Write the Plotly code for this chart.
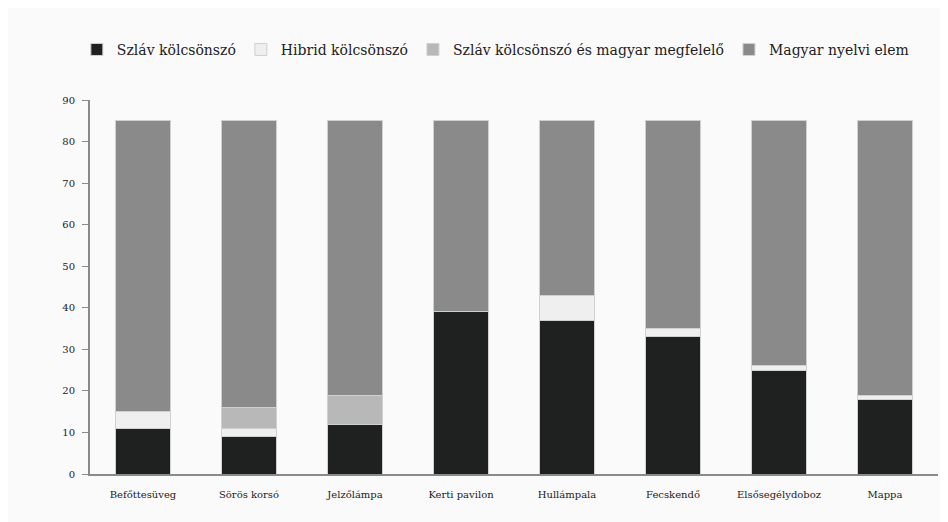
import plotly.graph_objects as go

categories = ['Befőttesüveg', 'Sörös korsó', 'Jelzőlámpa', 'Kerti pavilon',
              'Hullámpala', 'Fecskendő', 'Elsősegélydoboz', 'Mappa']
szlav = [11, 9, 12, 39, 37, 33, 25, 18]
hibrid = [4, 2, 0, 0, 6, 2, 1, 1]
szlav_magyar = [0, 5, 7, 0, 0, 0, 0, 0]
magyar = [70, 69, 66, 46, 42, 50, 59, 66]

series = [
    ('Szláv kölcsönszó', szlav, '#1f2120'),
    ('Hibrid kölcsönszó', hibrid, '#efefef'),
    ('Szláv kölcsönszó és magyar megfelelő', szlav_magyar, '#b8b8b8'),
    ('Magyar nyelvi elem', magyar, '#8a8a8a'),
]

FONT = 'DejaVu Serif'

fig = go.Figure()
for name, vals, color in series:
    fig.add_trace(go.Bar(
        x=categories,
        y=vals,
        name=name,
        marker=dict(color=color, line=dict(color='#d0d0d0', width=1)),
    ))

fig.update_layout(
    barmode='stack',
    bargap=0.49,
    width=948,
    height=522,
    paper_bgcolor='#fafafa',
    plot_bgcolor='#fafafa',
    font=dict(family=FONT, color='#222'),
    margin=dict(t=92, b=56, l=82, r=18),
    legend=dict(orientation='h', x=0.478, xanchor='center', y=1.134, yanchor='middle',
                font=dict(size=14, family=FONT), traceorder='normal',
                itemwidth=30, bgcolor='rgba(0,0,0,0)'),
    showlegend=True,
)
fig.update_yaxes(
    range=[0, 90], dtick=10, showgrid=False, zeroline=False,
    showline=True, linecolor='#8a8a8a', linewidth=2,
    ticks='outside', ticklen=6, tickcolor='#8a8a8a',
    ticklabelstandoff=5,
    tickfont=dict(size=10, family=FONT),
)
fig.update_xaxes(
    showgrid=False, showline=True, linecolor='#8a8a8a', linewidth=2,
    ticks='', ticklabelstandoff=10, tickfont=dict(size=10, family=FONT),
)

fig.write_html('out.html')
